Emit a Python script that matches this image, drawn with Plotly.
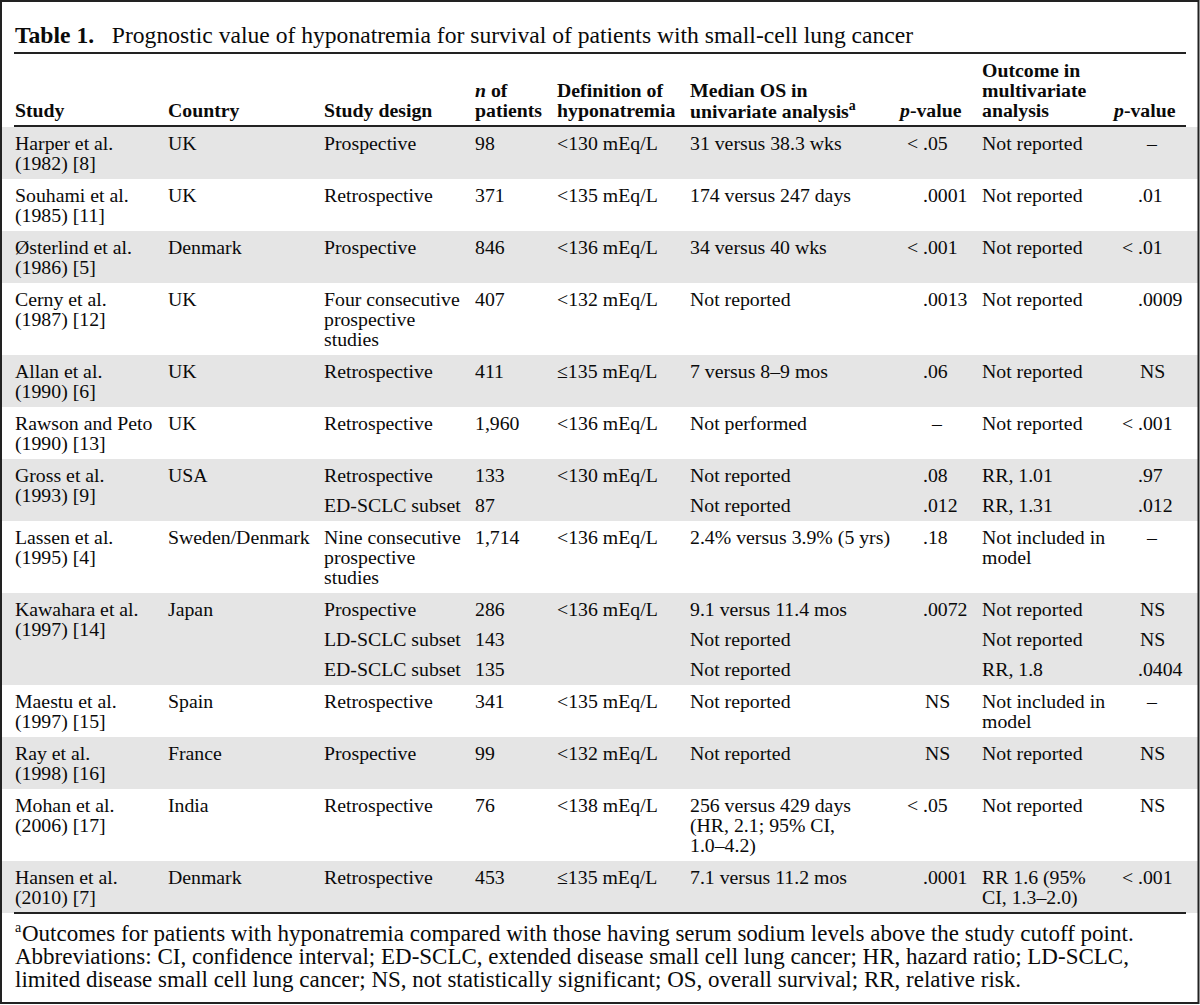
import plotly.graph_objects as go

# ---------------- data ----------------
title_bold = "Table 1."
title_text = "Prognostic value of hyponatremia for survival of patients with small-cell lung cancer"

header_cols = [
    ["Study"],
    ["Country"],
    ["Study design"],
    ["<i>n</i> of", "patients"],
    ["Definition of", "hyponatremia"],
    ["Median OS in", "univariate analysis<sup>a</sup>"],
    ["<i>p</i>-value"],
    ["Outcome in", "multivariate", "analysis"],
    ["<i>p</i>-value"],
]

studies = ["Harper et al.\n(1982) [8]", "Souhami et al.\n(1985) [11]", "Østerlind et al.\n(1986) [5]",
           "Cerny et al.\n(1987) [12]", "Allan et al.\n(1990) [6]", "Rawson and Peto\n(1990) [13]",
           "Gross et al.\n(1993) [9]", "Lassen et al.\n(1995) [4]", "Kawahara et al.\n(1997) [14]",
           "Maestu et al.\n(1997) [15]", "Ray et al.\n(1998) [16]", "Mohan et al.\n(2006) [17]",
           "Hansen et al.\n(2010) [7]"]
countries = ["UK", "UK", "Denmark", "UK", "UK", "UK", "USA", "Sweden/Denmark", "Japan",
             "Spain", "France", "India", "Denmark"]

# sub-row level arrays (group index links each sub-row to its study)
group_idx = [0, 1, 2, 3, 4, 5, 6, 6, 7, 8, 8, 8, 9, 10, 11, 12]
design = ["Prospective", "Retrospective", "Prospective", "Four consecutive\nprospective\nstudies",
          "Retrospective", "Retrospective", "Retrospective", "ED-SCLC subset",
          "Nine consecutive\nprospective\nstudies", "Prospective", "LD-SCLC subset", "ED-SCLC subset",
          "Retrospective", "Prospective", "Retrospective", "Retrospective"]
n_patients = ["98", "371", "846", "407", "411", "1,960", "133", "87", "1,714", "286", "143", "135",
              "341", "99", "76", "453"]
definition = ["<130 mEq/L", "<135 mEq/L", "<136 mEq/L", "<132 mEq/L", "≤135 mEq/L", "<136 mEq/L",
              "<130 mEq/L", "", "<136 mEq/L", "<136 mEq/L", "", "", "<135 mEq/L", "<132 mEq/L",
              "<138 mEq/L", "≤135 mEq/L"]
median_os = ["31 versus 38.3 wks", "174 versus 247 days", "34 versus 40 wks", "Not reported",
             "7 versus 8–9 mos", "Not performed", "Not reported", "Not reported",
             "2.4% versus 3.9% (5 yrs)", "9.1 versus 11.4 mos", "Not reported", "Not reported",
             "Not reported", "Not reported", "256 versus 429 days\n(HR, 2.1; 95% CI,\n1.0–4.2)",
             "7.1 versus 11.2 mos"]
p_univariate = ["<.05", ".0001", "<.001", ".0013", ".06", "–", ".08", ".012", ".18", ".0072", "", "",
                "NS", "NS", "<.05", ".0001"]
outcome_multi = ["Not reported", "Not reported", "Not reported", "Not reported", "Not reported",
                 "Not reported", "RR, 1.01", "RR, 1.31", "Not included in\nmodel", "Not reported",
                 "Not reported", "RR, 1.8", "Not included in\nmodel", "Not reported", "Not reported",
                 "RR 1.6 (95%\nCI, 1.3–2.0)"]
p_multivariate = ["–", ".01", "<.01", ".0009", "NS", "<.001", ".97", ".012", "–", "NS", "NS", ".0404",
                  "–", "NS", "NS", "<.001"]

footnote_mark = "a"
footnote_lines = [
    "Outcomes for patients with hyponatremia compared with those having serum sodium levels above the study cutoff point.",
    "Abbreviations: CI, confidence interval; ED-SCLC, extended disease small cell lung cancer; HR, hazard ratio; LD-SCLC,",
    "limited disease small cell lung cancer; NS, not statistically significant; OS, overall survival; RR, relative risk.",
]

# ---------------- layout config ----------------
W, H = 1200, 1005
FONT = "Liberation Serif, Times New Roman, serif"
BODY = 19.8
BIG = 23.6
FOOT = 23.0
TXT = "#0a0a0a"
SHADE = "#e5e5e5"
LH = 20          # line spacing
SUB = 30         # sub-row spacing
PADT, PADB = 16, 16
col_x = [15, 168, 324, 475, 557, 690, None, 982, None]
dec_x = {6: 923, 8: 1138}
head_right = {6: 962, 8: 1176}
TITLE_Y, TITLE_RULE = 35, 53
HEAD_LAST, HEAD_RULE = 110, 126
RULE_X0, RULE_X1 = 14, 1186

fig = go.Figure()
ann = []


def esc(s):
    return s.replace("<", "&lt;")


def add_text(x, y, s, anchor="left", size=BODY, raw=False):
    ann.append(dict(x=x, y=y, xref="x", yref="y", text=s if raw else esc(s), showarrow=False,
                    xanchor=anchor, yanchor="middle", borderpad=0, borderwidth=0,
                    font=dict(family=FONT, size=size, color=TXT)))


def add_dec(col, y, s):
    if not s:
        return
    d = dec_x[col]
    if "." in s:
        i = s.index(".")
        if s[:i]:
            add_text(d - 5, y, s[:i], "right")
        add_text(d, y, s[i:], "left")
    else:
        add_text(d + 14, y, s, "center")


# title
add_text(15, TITLE_Y, f"<b>{title_bold}</b>\u00a0\u00a0 {title_text}", raw=True, size=BIG)
shapes = [dict(type="line", xref="x", yref="y", x0=RULE_X0, x1=RULE_X1, y0=TITLE_RULE, y1=TITLE_RULE,
               line=dict(color="#222", width=2))]

# header
for c, lines in enumerate(header_cols):
    for k, s in enumerate(reversed(lines)):
        y = HEAD_LAST - k * LH
        s_b = f"<b>{s}</b>"
        if c in head_right:
            add_text(head_right[c], y, s_b, "right", raw=True)
        else:
            add_text(col_x[c], y, s_b, "left", raw=True)
shapes.append(dict(type="line", xref="x", yref="y", x0=RULE_X0, x1=RULE_X1, y0=HEAD_RULE, y1=HEAD_RULE,
                   line=dict(color="#222", width=2)))

# body
top = HEAD_RULE + 1
sub_cols = [design, n_patients, definition, median_os, p_univariate, outcome_multi, p_multivariate]
for g in range(len(studies)):
    subs = [i for i, gi in enumerate(group_idx) if gi == g]
    y0 = top + PADT
    last = y0
    for k, line in enumerate(studies[g].split("\n")):
        add_text(col_x[0], y0 + k * LH, line)
        last = max(last, y0 + k * LH)
    add_text(col_x[1], y0, countries[g])
    ys = y0
    for i in subs:
        maxl = 1
        for ci, arr in enumerate(sub_cols):
            col = ci + 2
            lines = arr[i].split("\n") if arr[i] else []
            maxl = max(maxl, len(lines))
            for k, line in enumerate(lines):
                yy = ys + k * LH
                if col in dec_x:
                    add_dec(col, yy, line)
                else:
                    add_text(col_x[col], yy, line)
                last = max(last, yy)
        ys = ys + (maxl - 1) * LH + SUB
    bottom = last + PADB
    if g % 2 == 0:
        shapes.append(dict(type="rect", xref="x", yref="y", x0=2, x1=W - 2, y0=top, y1=bottom,
                           fillcolor=SHADE, line=dict(width=0), layer="below"))
    top = bottom

BOT_RULE = top
shapes.append(dict(type="line", xref="x", yref="y", x0=RULE_X0, x1=RULE_X1, y0=BOT_RULE, y1=BOT_RULE,
                   line=dict(color="#222", width=2)))

# footnotes (superscript mark drawn as its own small text)
FN_Y0 = BOT_RULE + 20
add_text(15, FN_Y0 - 6, footnote_mark, size=14)
for k, s in enumerate(footnote_lines):
    add_text(22 if k == 0 else 15, FN_Y0 + k * 23, s, size=FOOT)

# outer border
shapes.append(dict(type="rect", xref="x", yref="y", x0=1, x1=W - 1.5, y0=1, y1=H - 2,
                   line=dict(color="#222", width=2)))

fig.update_layout(
    width=W, height=H, margin=dict(l=0, r=0, t=0, b=0),
    paper_bgcolor="white", plot_bgcolor="white",
    xaxis=dict(range=[0, W], visible=False, fixedrange=True),
    yaxis=dict(range=[H, 0], visible=False, fixedrange=True),
    annotations=ann, shapes=shapes, showlegend=False,
)
fig.write_html("out.html", config={"displayModeBar": False},
               post_script="document.body.style.margin='0px';document.body.style.overflow='hidden';")
